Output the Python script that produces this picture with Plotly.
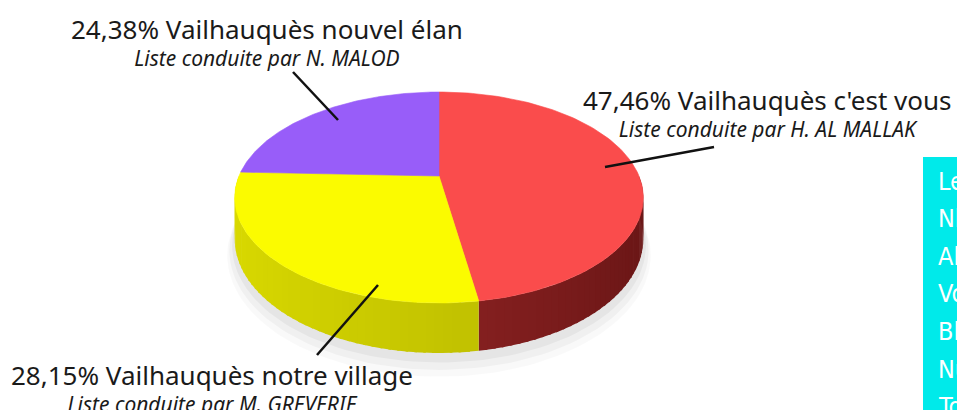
import numpy as np
import plotly.graph_objects as go

# ---- data ----
labels = ["Vailhauquès c'est vous", "Vailhauquès notre village", "Vailhauquès nouvel élan"]
leaders = ["H. AL MALLAK", "M. GREVERIE", "N. MALOD"]
shares = [47.46, 28.15, 24.38]
box_lines = ["Le", "Nb", "Ab", "Vo", "Bla", "Nu", "To"]

# ---- styles ----
top_colors = ["#FA4C4C", "#FBFB00", "#985DF9"]
wall_light = [(170, 45, 45), (218, 218, 0), (120, 80, 200)]
wall_dark = [(105, 22, 22), (175, 175, 0), (80, 50, 150)]

W, H = 957, 410
CX, CY, R0, S, K, H0 = 439, 176, 200, 101.1, 0.2038, 39.8


def proj(phi_deg, z=0.0, scale=1.0):
    phi = np.radians(phi_deg)
    u = np.sin(phi) * scale
    v = -np.cos(phi) * scale
    d = 1 - K * v
    return CX + R0 * u / d, CY + (S * v + H0 * z) / d


fig = go.Figure()

# soft shadow (below the pie)
for sc, z, a in [(1.035, 1.35, 0.025), (1.025, 1.25, 0.035), (1.012, 1.15, 0.045)]:
    ang = np.linspace(0, 360, 181)
    x, y = proj(ang, z, sc)
    fig.add_trace(go.Scatter(x=x, y=y, fill="toself", mode="lines", line=dict(width=0),
                             fillcolor=f"rgba(0,0,0,{a})", hoverinfo="skip", showlegend=False))

# slice angles
tot = sum(shares)
bounds = [0]
for v in shares:
    bounds.append(bounds[-1] + v / tot * 360)

# walls (front half)
for i in range(len(shares)):
    a0, a1 = bounds[i], bounds[i + 1]
    lo, hi = max(a0, 90), min(a1, 270)
    if hi <= lo:
        continue
    n = max(2, int((hi - lo) / 2))
    edges = np.linspace(lo, hi, n + 1)
    for j in range(n):
        seg = np.linspace(edges[j], edges[j + 1] + (0.6 if j < n - 1 else 0), 6)
        xt, yt = proj(seg, 0)
        xb, yb = proj(seg[::-1], 1)
        um = np.sin(np.radians((edges[j] + edges[j + 1]) / 2))
        t = (um + 1) / 2
        c = tuple(int(wall_light[i][c_] * (1 - t) + wall_dark[i][c_] * t) for c_ in range(3))
        fig.add_trace(go.Scatter(x=np.concatenate([xt, xb]), y=np.concatenate([yt, yb]),
                                 fill="toself", mode="lines", line=dict(width=0),
                                 fillcolor=f"rgb{c}", hoverinfo="skip", showlegend=False))

# top faces
for i in range(len(shares)):
    ang = np.linspace(bounds[i], bounds[i + 1], 120)
    x, y = proj(ang, 0)
    x = np.concatenate([[CX], x, [CX]])
    y = np.concatenate([[CY], y, [CY]])
    fig.add_trace(go.Scatter(x=x, y=y, fill="toself", mode="lines",
                             line=dict(width=0.6, color=top_colors[i]),
                             fillcolor=top_colors[i], name=labels[i],
                             hoverinfo="name", showlegend=False))

# labels (two lines in one text block)
label_pos = [(767, 112), (212, 387), (267, 41)]
lead_lines = [
    ((605, 167), (714, 147)),
    ((378, 285), (317, 355)),
    ((338, 120), (293, 72)),
]
for i in range(len(shares)):
    xm, ym = label_pos[i]
    pct = f"{shares[i]:.2f}".replace(".", ",")
    txt = (f"<span style='font-size:26px'>{pct}% {labels[i]}</span><br>"
           f"<i>Liste conduite par {leaders[i]}</i>")
    fig.add_annotation(x=xm, y=ym, text=txt, showarrow=False,
                       xanchor="center", yanchor="middle", align="center",
                       font=dict(family="Noto Sans", size=21, color="#1a1a1a"))
    (x0, y0), (x1, y1) = lead_lines[i]
    fig.add_shape(type="line", x0=x0, y0=y0, x1=x1, y1=y1, xref="x", yref="y",
                  line=dict(color="#111111", width=2.5))

# cyan box at right
fig.add_shape(type="rect", x0=923, x1=960, y0=157, y1=415, xref="x", yref="y",
              fillcolor="#00EAEA", line=dict(width=0), layer="above")
for j, t in enumerate(box_lines):
    fig.add_annotation(x=936, y=181 + j * 37.6, text=t, showarrow=False,
                       xanchor="left", yanchor="middle",
                       font=dict(family="Liberation Sans Narrow, DejaVu Sans Condensed, Roboto",
                                 size=25, color="#ffffff"))

fig.update_layout(
    width=W, height=H, margin=dict(l=0, r=0, t=0, b=0),
    paper_bgcolor="white", plot_bgcolor="white",
    xaxis=dict(range=[0, W], visible=False, fixedrange=True),
    yaxis=dict(range=[H, 0], visible=False, fixedrange=True),
    showlegend=False,
)
fig.write_html("out.html")
